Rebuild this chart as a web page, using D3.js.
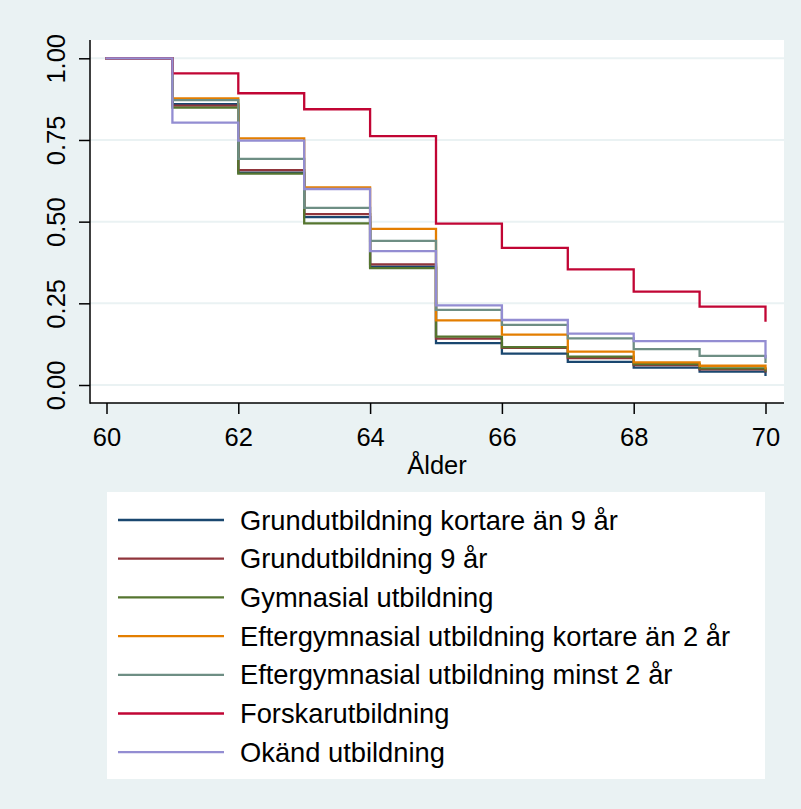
<!DOCTYPE html>
<html><head><meta charset="utf-8">
<script src="https://cdn.jsdelivr.net/npm/d3@7/dist/d3.min.js"></script>
<style>
body{margin:0;background:#EAF2F3;}
svg text{font-family:"Liberation Sans",Arial,Helvetica,sans-serif;fill:#000;}
</style>
</head><body>
<svg id="chart" width="801" height="809"></svg>
<script>
// ---- data ----
const ages = [60, 61, 62, 63, 64, 65, 66, 67, 68, 69, 70];
const xTicks = [60, 62, 64, 66, 68, 70];
const yTicks = [0, 0.25, 0.5, 0.75, 1];
const seriesNames = [
  "Grundutbildning kortare än 9 år",
  "Grundutbildning 9 år",
  "Gymnasial utbildning",
  "Eftergymnasial utbildning kortare än 2 år",
  "Eftergymnasial utbildning minst 2 år",
  "Forskarutbildning",
  "Okänd utbildning"
];
// survival from each age to the next; last value = after the drop at 70
const grundKort   = [1, 0.860, 0.650, 0.514, 0.362, 0.128, 0.096, 0.071, 0.053, 0.041, 0.031];
const grund9      = [1, 0.855, 0.658, 0.523, 0.369, 0.142, 0.114, 0.082, 0.061, 0.048, 0.042];
const gymnasial   = [1, 0.849, 0.647, 0.495, 0.358, 0.148, 0.116, 0.087, 0.064, 0.051, 0.045];
const eftKort     = [1, 0.877, 0.755, 0.605, 0.478, 0.198, 0.154, 0.102, 0.069, 0.059, 0.051];
const eftMinst    = [1, 0.872, 0.692, 0.542, 0.441, 0.230, 0.184, 0.143, 0.110, 0.089, 0.071];
const forskar     = [1, 0.954, 0.893, 0.844, 0.762, 0.494, 0.420, 0.354, 0.286, 0.240, 0.197];
const okand       = [1, 0.803, 0.748, 0.600, 0.410, 0.244, 0.199, 0.157, 0.134, 0.134, 0.085];
const seriesValues = [grundKort, grund9, gymnasial, eftKort, eftMinst, forskar, okand];
const colors = ["#1A476F", "#90353B", "#55752F", "#E37E00", "#6E8E84", "#C10534", "#938DD2"];

// ---- layout ----
const svg = d3.select("#chart");
const plot = {left: 90, right: 784, top: 40, bottom: 403};
const x = d3.scaleLinear().domain([60, 70]).range([106.5, 765.5]);
const y = d3.scaleLinear().domain([0, 1]).range([385, 58.3]);
const fs = 25.5;
const legendFs = 27.3;

svg.append("rect").attr("width", 801).attr("height", 809).attr("fill", "#EAF2F3");
svg.append("rect").attr("x", plot.left).attr("y", plot.top)
  .attr("width", plot.right - plot.left).attr("height", plot.bottom - plot.top).attr("fill", "#fff");

// gridlines
svg.append("g").selectAll("line").data(yTicks).join("line")
  .attr("x1", plot.left).attr("x2", plot.right)
  .attr("y1", d => y(d)).attr("y2", d => y(d))
  .attr("stroke", "#EAF2F3").attr("stroke-width", 2);

// series
const line = d3.line().x(d => x(d[0])).y(d => y(d[1])).curve(d3.curveStepAfter);
seriesValues.forEach((vals, i) => {
  svg.append("path")
    .datum(ages.map((a, j) => [a, vals[j]]))
    .attr("d", line).attr("fill", "none")
    .attr("stroke", colors[i]).attr("stroke-width", 2.3)
    .attr("stroke-linejoin", "miter").attr("stroke-linecap", "square");
});

// axes
const yAxis = svg.append("g").attr("transform", `translate(${plot.left},0)`)
  .call(d3.axisLeft(y).tickValues(yTicks).tickFormat(d3.format(".2f")).tickSize(11));
yAxis.select(".domain").remove();
yAxis.selectAll(".tick line").attr("stroke", "#000").attr("stroke-width", 1.5);
yAxis.selectAll(".tick text")
  .attr("x", null).attr("dy", null).attr("y", null)
  .attr("transform", "translate(-25,0) rotate(-90)")
  .attr("text-anchor", "middle").attr("font-size", fs).attr("fill", "#000");

const xAxis = svg.append("g").attr("transform", `translate(0,${plot.bottom})`)
  .call(d3.axisBottom(x).tickValues(xTicks).tickFormat(d3.format("d")).tickSize(11));
xAxis.select(".domain").remove();
xAxis.selectAll(".tick line").attr("stroke", "#000").attr("stroke-width", 1.5);
xAxis.selectAll(".tick text").attr("dy", null).attr("y", 43)
  .attr("font-size", fs).attr("fill", "#000");

svg.append("line").attr("x1", plot.left).attr("x2", plot.left)
  .attr("y1", plot.top).attr("y2", plot.bottom + 0.75).attr("stroke", "#000").attr("stroke-width", 1.5);
svg.append("line").attr("x1", plot.left).attr("x2", plot.right)
  .attr("y1", plot.bottom).attr("y2", plot.bottom).attr("stroke", "#000").attr("stroke-width", 1.5);

svg.append("text").attr("x", (plot.left + plot.right) / 2).attr("y", 474)
  .attr("text-anchor", "middle").attr("font-size", fs).text("Ålder");

// legend
svg.append("rect").attr("x", 107).attr("y", 492).attr("width", 658).attr("height", 287).attr("fill", "#fff");
const lg = svg.append("g").selectAll("g").data(seriesNames).join("g")
  .attr("transform", (d, i) => `translate(0,${520 + i * 38.7})`);
lg.append("line").attr("x1", 118).attr("x2", 224).attr("y1", 0).attr("y2", 0)
  .attr("stroke", (d, i) => colors[i]).attr("stroke-width", 2.3);
lg.append("text").attr("x", 240).attr("y", 0).attr("dy", "0.35em")
  .attr("font-size", legendFs).text(d => d);
</script>
</body></html>
